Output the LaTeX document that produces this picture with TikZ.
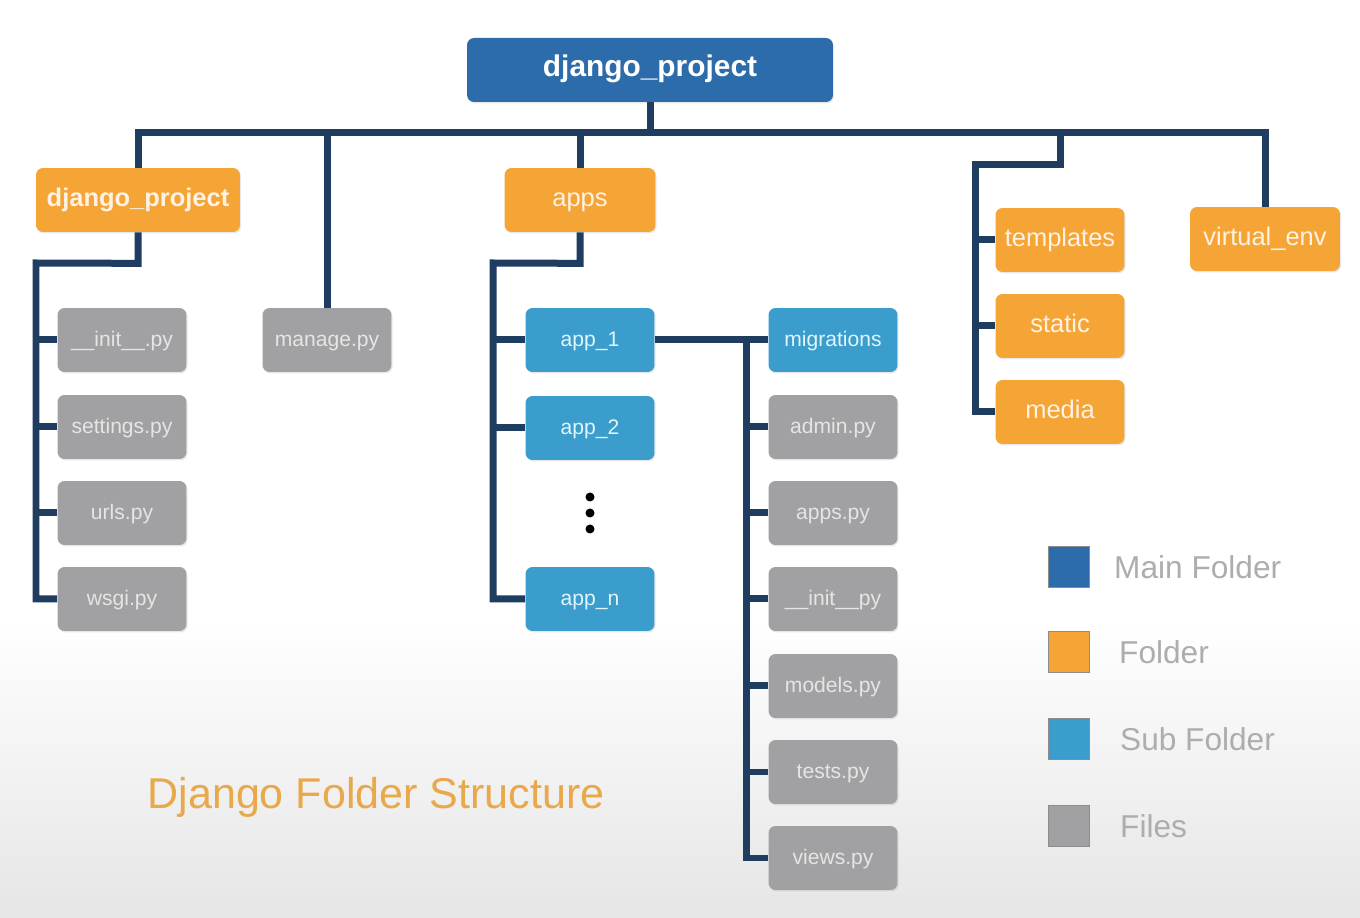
\documentclass[tikz,border=0pt]{standalone}
\usepackage{fontspec}
\setmainfont{Liberation Sans}
\usetikzlibrary{shadows}

\definecolor{mainblue}{HTML}{2C6CAA}
\definecolor{folderorange}{HTML}{F5A535}
\definecolor{subblue}{HTML}{3A9DCB}
\definecolor{filegray}{HTML}{A1A1A3}
\definecolor{linknavy}{HTML}{1F3D60}
\definecolor{legendtext}{HTML}{ADADAD}
\definecolor{titleorange}{HTML}{E9A84A}

\begin{document}
\begin{tikzpicture}[
  x=0.02cm, y=-0.02cm,
  link/.style={draw=linknavy, line width=0.14cm},
  box/.style={rounded corners=4pt, minimum height=1.28cm, inner sep=2pt,
              text height=1.6ex, text depth=0.25ex,
              drop shadow={opacity=0.18, shadow xshift=0.6pt, shadow yshift=-0.8pt}},
  mainbox/.style={box, fill=mainblue, text=white, minimum width=7.32cm,
                  font=\fontsize{17}{20}\selectfont\bfseries},
  folder/.style={box, fill=folderorange, text=white!90!orange, minimum width=2.58cm,
                 font=\fontsize{14.5}{17}\selectfont},
  subfolder/.style={box, fill=subblue, text=white!88!cyan, minimum width=2.58cm,
                    font=\fontsize{12}{14}\selectfont},
  file/.style={box, fill=filegray, text=white!90!black, minimum width=2.58cm,
               font=\fontsize{12}{14}\selectfont},
  legbox/.style={draw=black!45, line width=0.6pt, minimum size=0.82cm, inner sep=0pt},
  legtext/.style={anchor=west, text=legendtext, font=\fontsize{18}{21}\selectfont}
]
\useasboundingbox (0,0) rectangle (1360,918);

% ---------- background ----------
\fill[white] (0,0) rectangle (1360,918);
\shade[top color=white, bottom color=black!10] (0,620) rectangle (1360,918);

% ---------- root ----------
\node[mainbox] (main) at (650,70) {django\_project};

% ---------- first level ----------
\node[folder, minimum width=4.08cm, font=\fontsize{14.5}{17}\selectfont\bfseries]
  (dp) at (138,200) {django\_project};
\node[file] (manage) at (327,340) {manage.py};
\node[folder, minimum width=3.02cm] (apps) at (580,200) {apps};
\node[folder] (templates) at (1060,240) {templates};
\node[folder] (static) at (1060,326) {static};
\node[folder] (media) at (1060,412) {media};
\node[folder, minimum width=3.0cm] (venv) at (1265,239) {virtual\_env};

% ---------- project files ----------
\node[file] (init) at (122,340) {\_\_init\_\_.py};
\node[file] (settings) at (122,427) {settings.py};
\node[file] (urls) at (122,513) {urls.py};
\node[file] (wsgi) at (122,599) {wsgi.py};

% ---------- apps ----------
\node[subfolder] (app1) at (590,340) {app\_1};
\node[subfolder] (app2) at (590,428) {app\_2};
\node[subfolder] (appn) at (590,599) {app\_n};
\foreach \y in {497,513,529}
  \fill (590,\y) circle (0.09cm);

% ---------- app contents ----------
\node[subfolder] (mig) at (833,340) {migrations};
\node[file] (admin) at (833,427) {admin.py};
\node[file] (appspy) at (833,513) {apps.py};
\node[file] (initapp) at (833,599) {\_\_init\_\_py};
\node[file] (models) at (833,686) {models.py};
\node[file] (tests) at (833,772) {tests.py};
\node[file] (views) at (833,858) {views.py};

% ---------- connectors ----------
\coordinate (bus) at (650,133);
\draw[link] (main.south) -- (bus);
\draw[link] (bus) -| (dp.north);
\draw[link] (bus) -| (manage.north);
\draw[link] (bus) -| (apps.north);
\draw[link] (bus) -| (venv.north);

\coordinate (tplknee) at (1060,165);
\coordinate (tplrail) at (975,165);
\draw[link] (bus) -| (tplknee) -- (tplrail) |- (media.west);
\draw[link] (tplrail |- templates.west) -- (templates.west);
\draw[link] (tplrail |- static.west) -- (static.west);

\draw[link] (dp.south) -- ++(0,31) coordinate (dpknee) -- (36,263) coordinate (dprail)
  |- (wsgi.west);
\foreach \f in {init,settings,urls}
  \draw[link] (dprail |- \f.west) -- (\f.west);

\draw[link] (apps.south) -- ++(0,31) coordinate (appsknee) -- (493,263) coordinate (appsrail)
  |- (appn.west);
\foreach \a in {app1,app2}
  \draw[link] (appsrail |- \a.west) -- (\a.west);

\draw[link] (app1.east) -- (mig.west);
\coordinate (filerail) at (746,340);
\draw[link] (filerail) |- (views.west);
\foreach \f in {admin,appspy,initapp,models,tests}
  \draw[link] (filerail |- \f.west) -- (\f.west);

% ---------- title ----------
\node[text=titleorange, font=\fontsize{24.5}{28}\selectfont] (title) at (376,797)
  {Django Folder Structure};

% ---------- legend ----------
\node[legbox, fill=mainblue] (lgmain) at (1069,567) {};
\node[legbox, fill=folderorange] (lgfolder) at (1069,652) {};
\node[legbox, fill=subblue] (lgsub) at (1069,739) {};
\node[legbox, fill=filegray] (lgfile) at (1069,826) {};
\node[legtext] (lgmaint) at (1108,567) {Main Folder};
\node[legtext] (lgfoldert) at (1113,652) {Folder};
\node[legtext] (lgsubt) at (1114,739) {Sub Folder};
\node[legtext] (lgfilet) at (1114,826) {Files};

\end{tikzpicture}
\end{document}
